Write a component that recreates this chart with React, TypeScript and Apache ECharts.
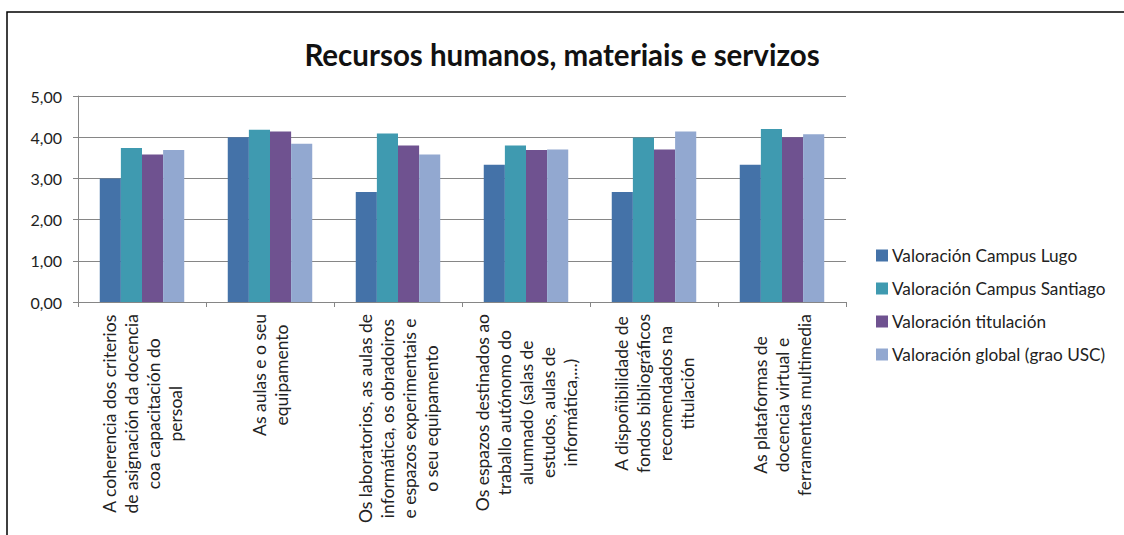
import React, { useEffect, useRef } from "react";
import * as echarts from "echarts";

const titleText = "Recursos humanos, materiais e servizos";

const categories = [
  "A coherencia dos criterios\nde asignación da docencia\ncoa capacitación do\npersoal",
  "As aulas e o seu\nequipamento",
  "Os laboratorios, as aulas de\ninformática, os obradoiros\ne espazos experimentais e\no seu equipamento",
  "Os espazos destinados ao\ntraballo autónomo do\nalumnado (salas de\nestudos, aulas de\ninformática,...)",
  "A dispoñibilidade de\nfondos bibliográficos\nrecomendados na\ntitulación",
  "As plataformas de\ndocencia virtual e\nferramentas multimedia",
];

const seriesNames = [
  "Valoración Campus Lugo",
  "Valoración Campus Santiago",
  "Valoración titulación",
  "Valoración global (grao USC)",
];

const campusLugo = [3.0, 4.0, 2.67, 3.33, 2.67, 3.33];
const campusSantiago = [3.74, 4.18, 4.09, 3.8, 3.99, 4.2];
const titulacion = [3.58, 4.14, 3.8, 3.69, 3.7, 4.0];
const globalUSC = [3.69, 3.84, 3.58, 3.7, 4.14, 4.07];

const seriesValues = [campusLugo, campusSantiago, titulacion, globalUSC];
const seriesColors = ["#4472a8", "#3f9ab0", "#6f5290", "#92a8d0"];

const yTicks = [0, 1, 2, 3, 4, 5];

export default function App() {
  const ref = useRef<HTMLDivElement>(null);

  useEffect(() => {
    document.body.style.margin = "0";
    if (!ref.current) return;
    const chart = echarts.init(ref.current, undefined, { renderer: "svg" });
    const font = "Lato, 'Noto Sans', sans-serif";
    chart.setOption({
      animation: false,
      backgroundColor: "#ffffff",
      textStyle: { fontFamily: font },
      title: {
        text: titleText,
        left: "center",
        top: 34,
        textStyle: { fontFamily: font, fontSize: 29.5, fontWeight: "bold", color: "#111111" },
      },
      graphic: [
        {
          type: "rect",
          shape: { x: 7, y: 12, width: 1130, height: 540 },
          style: { fill: "none", stroke: "#000000", lineWidth: 1.5 },
          silent: true,
        },
      ],
      legend: {
        orient: "vertical",
        left: 871,
        top: 242,
        itemWidth: 12,
        itemHeight: 12,
        itemGap: 16,
        icon: "rect",
        data: seriesNames,
        textStyle: { fontFamily: font, fontSize: 17.2, color: "#222222", padding: [0, 0, 0, -1] },
      },
      grid: { left: 78, right: 278, top: 96, bottom: 233, containLabel: false },
      xAxis: {
        type: "category",
        data: categories,
        axisLine: { show: true, lineStyle: { color: "#868686", width: 1 } },
        axisTick: { show: true, length: 5, lineStyle: { color: "#868686" } },
        axisLabel: {
          rotate: 90,
          interval: 0,
          margin: 12,
          formatter: (v: string) =>
            v
              .split("\n")
              .map((l) => "{c|" + l + "}")
              .join("\n"),
          rich: {
            c: { align: "center", fontFamily: font, fontSize: 17.5, lineHeight: 22, color: "#222222" },
          },
        },
      },
      yAxis: {
        type: "value",
        min: yTicks[0],
        max: yTicks[yTicks.length - 1],
        interval: 1,
        axisLine: { show: true, lineStyle: { color: "#868686", width: 1 } },
        axisTick: { show: true, length: 5, lineStyle: { color: "#868686" } },
        splitLine: { show: true, lineStyle: { color: "#868686", width: 1 } },
        axisLabel: {
          margin: 16,
          fontFamily: font,
          fontSize: 16,
          color: "#222222",
          formatter: (v: number) => v.toFixed(2).replace(".", ","),
        },
      },
      series: seriesNames.map((name, i) => ({
        name,
        type: "bar",
        data: seriesValues[i],
        barGap: "0%",
        barCategoryGap: "34%",
        itemStyle: { color: seriesColors[i] },
      })),
    });
    return () => chart.dispose();
  }, []);

  return <div ref={ref} style={{ width: 1124, height: 535 }} />;
}
